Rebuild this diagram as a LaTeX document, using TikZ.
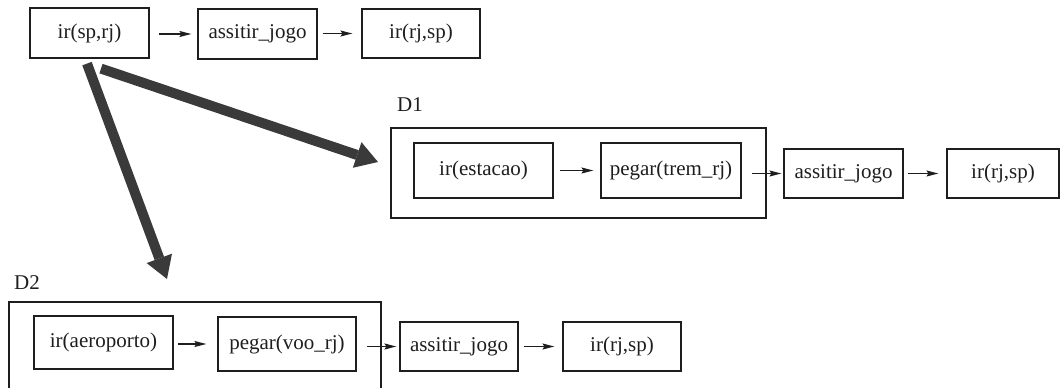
\documentclass[tikz,border=0pt]{standalone}
\usepackage{fontspec}
\setmainfont{Liberation Serif}
\usetikzlibrary{arrows.meta}
\definecolor{ink}{HTML}{1E1E1E}
\definecolor{heavy}{HTML}{3A3A3A}
\tikzset{
  box/.style={draw=ink, line width=1.2pt, inner sep=0pt, text=ink,
    font=\fontsize{21}{25}\selectfont},
  frame/.style={draw=ink, line width=1.2pt, inner sep=0pt},
  lbl/.style={inner sep=0pt, text=ink, font=\fontsize{21}{25}\selectfont},
  arr/.style={draw=ink, line width=1.2pt, -{Stealth[length=12pt,width=6pt,inset=2pt]}},
  bigarr/.style={draw=heavy, line width=10pt, line cap=butt,
    -{Triangle[length=22pt,width=27pt,line width=0pt]}}
}
\begin{document}
\begin{tikzpicture}[x=1pt, y=-1pt]
\useasboundingbox (0,0) rectangle (1061,388);
\clip (0,0) rectangle (1061,388);

% main plan
\node[box, minimum width=119pt, minimum height=50pt] (a1) at (89.5,33) {ir(sp,rj)};
\node[box, minimum width=119pt, minimum height=50pt] (a2) at (257.5,34) {assitir\_jogo};
\node[box, minimum width=118pt, minimum height=49pt] (a3) at (421,33.5) {ir(rj,sp)};
\draw[arr, shorten <=9pt, shorten >=6pt] (a1.east |- a2) -- (a2.west);
\draw[arr, shorten <=5pt, shorten >=9pt] (a2.east |- a3) -- (a3.west);

% decomposition D1
\node[lbl] (d1lbl) at (410,105) {D1};
\node[frame, minimum width=375pt, minimum height=90pt] (d1box) at (578.5,173) {};
\node[box, minimum width=139pt, minimum height=55pt] (b1) at (483.5,170.5) {ir(estacao)};
\node[box, minimum width=140pt, minimum height=55pt] (b2) at (671,170.5) {pegar(trem\_rj)};
\node[box, minimum width=119pt, minimum height=49pt] (b3) at (843.5,173.5) {assitir\_jogo};
\node[box, minimum width=112pt, minimum height=49pt] (b4) at (1003,173.5) {ir(rj,sp)};
\draw[arr, shorten <=6pt, shorten >=7pt] (b1.east |- b2) -- (b2.west);
\draw[arr, shorten <=10pt, shorten >=2pt] (b2.east |- b3) -- (b3.west);
\draw[arr, shorten <=4pt, shorten >=8pt] (b3.east |- b4) -- (b4.west);

% decomposition D2 (frame runs past the lower edge)
\node[lbl] (d2lbl) at (27,283) {D2};
\node[frame, minimum width=372pt, minimum height=100pt] (d2box) at (195,352) {};
\node[box, minimum width=139pt, minimum height=53pt] (c1) at (103.5,342.5) {ir(aeroporto)};
\node[box, minimum width=138pt, minimum height=54pt] (c2) at (287,344) {pegar(voo\_rj)};
\node[box, minimum width=118pt, minimum height=49pt] (c3) at (459,346.5) {assitir\_jogo};
\node[box, minimum width=118pt, minimum height=49pt] (c4) at (622,346.5) {ir(rj,sp)};
\draw[arr, shorten <=4pt, shorten >=11pt] (c1.east |- c2) -- (c2.west);
\draw[arr, shorten <=10pt, shorten >=3pt] (c2.east |- c3) -- (c3.west);
\draw[arr, shorten <=5pt, shorten >=8pt] (c3.east |- c4) -- (c4.west);

% refinement arrows
\coordinate (tipA) at (378,162);
\coordinate (tipB) at (167,279);
\draw[bigarr] ([shift={(11.5,10)}]a1.south) -- (tipA);
\draw[bigarr] ([shift={(-2.5,5)}]a1.south) -- (tipB);
\end{tikzpicture}
\end{document}
